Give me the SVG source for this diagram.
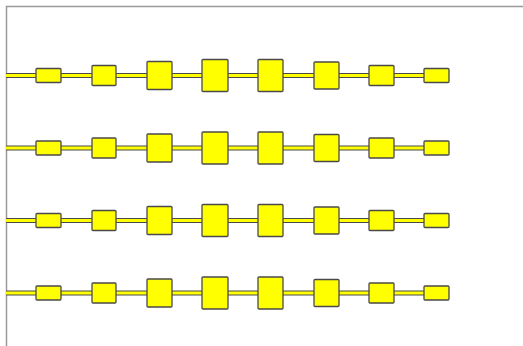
<svg xmlns="http://www.w3.org/2000/svg" width="523" height="346" viewBox="0 0 523 346">
<defs>
<style>
.frame{fill:none;stroke:#9a9a9a;stroke-width:1.5}
.wo{stroke:#4a4a4a;stroke-width:5;fill:none}
.wi{stroke:#ffff00;stroke-width:2.8;fill:none}
.n{fill:#ffff00;stroke:#4a4a4a;stroke-width:1.3}
</style>
</defs>
<rect width="523" height="346" fill="#fff"/>
<path class="frame" d="M6.5,346 V6.5 H523"/>
<g id="connectors">
<g transform="translate(0,75.5)"><line class="wo" x1="6" y1="0" x2="424" y2="0"/><line class="wi" x1="6" y1="0" x2="424" y2="0"/></g>
<g transform="translate(0,148)"><line class="wo" x1="6" y1="0" x2="424" y2="0"/><line class="wi" x1="6" y1="0" x2="424" y2="0"/></g>
<g transform="translate(0,220.5)"><line class="wo" x1="6" y1="0" x2="424" y2="0"/><line class="wi" x1="6" y1="0" x2="424" y2="0"/></g>
<g transform="translate(0,293)"><line class="wo" x1="6" y1="0" x2="424" y2="0"/><line class="wi" x1="6" y1="0" x2="424" y2="0"/></g>
</g>
<g transform="translate(0,75.5)">
<g id="r1n1"><rect class="n" x="36" y="-7" width="25" height="14" rx="1"/></g>
<g id="r1n2"><rect class="n" x="92" y="-10" width="24" height="20" rx="1"/></g>
<g id="r1n3"><rect class="n" x="147" y="-14" width="25" height="28" rx="1"/></g>
<g id="r1n4"><rect class="n" x="202" y="-16" width="26" height="32" rx="1"/></g>
<g id="r1n5"><rect class="n" x="258" y="-16" width="25" height="32" rx="1"/></g>
<g id="r1n6"><rect class="n" x="314" y="-13.5" width="25" height="27" rx="1"/></g>
<g id="r1n7"><rect class="n" x="369" y="-10" width="25" height="20" rx="1"/></g>
<g id="r1n8"><rect class="n" x="424" y="-7" width="25" height="14" rx="1"/></g>
</g>
<g transform="translate(0,148)">
<g id="r2n1"><rect class="n" x="36" y="-7" width="25" height="14" rx="1"/></g>
<g id="r2n2"><rect class="n" x="92" y="-10" width="24" height="20" rx="1"/></g>
<g id="r2n3"><rect class="n" x="147" y="-14" width="25" height="28" rx="1"/></g>
<g id="r2n4"><rect class="n" x="202" y="-16" width="26" height="32" rx="1"/></g>
<g id="r2n5"><rect class="n" x="258" y="-16" width="25" height="32" rx="1"/></g>
<g id="r2n6"><rect class="n" x="314" y="-13.5" width="25" height="27" rx="1"/></g>
<g id="r2n7"><rect class="n" x="369" y="-10" width="25" height="20" rx="1"/></g>
<g id="r2n8"><rect class="n" x="424" y="-7" width="25" height="14" rx="1"/></g>
</g>
<g transform="translate(0,220.5)">
<g id="r3n1"><rect class="n" x="36" y="-7" width="25" height="14" rx="1"/></g>
<g id="r3n2"><rect class="n" x="92" y="-10" width="24" height="20" rx="1"/></g>
<g id="r3n3"><rect class="n" x="147" y="-14" width="25" height="28" rx="1"/></g>
<g id="r3n4"><rect class="n" x="202" y="-16" width="26" height="32" rx="1"/></g>
<g id="r3n5"><rect class="n" x="258" y="-16" width="25" height="32" rx="1"/></g>
<g id="r3n6"><rect class="n" x="314" y="-13.5" width="25" height="27" rx="1"/></g>
<g id="r3n7"><rect class="n" x="369" y="-10" width="25" height="20" rx="1"/></g>
<g id="r3n8"><rect class="n" x="424" y="-7" width="25" height="14" rx="1"/></g>
</g>
<g transform="translate(0,293)">
<g id="r4n1"><rect class="n" x="36" y="-7" width="25" height="14" rx="1"/></g>
<g id="r4n2"><rect class="n" x="92" y="-10" width="24" height="20" rx="1"/></g>
<g id="r4n3"><rect class="n" x="147" y="-14" width="25" height="28" rx="1"/></g>
<g id="r4n4"><rect class="n" x="202" y="-16" width="26" height="32" rx="1"/></g>
<g id="r4n5"><rect class="n" x="258" y="-16" width="25" height="32" rx="1"/></g>
<g id="r4n6"><rect class="n" x="314" y="-13.5" width="25" height="27" rx="1"/></g>
<g id="r4n7"><rect class="n" x="369" y="-10" width="25" height="20" rx="1"/></g>
<g id="r4n8"><rect class="n" x="424" y="-7" width="25" height="14" rx="1"/></g>
</g>
</svg>
